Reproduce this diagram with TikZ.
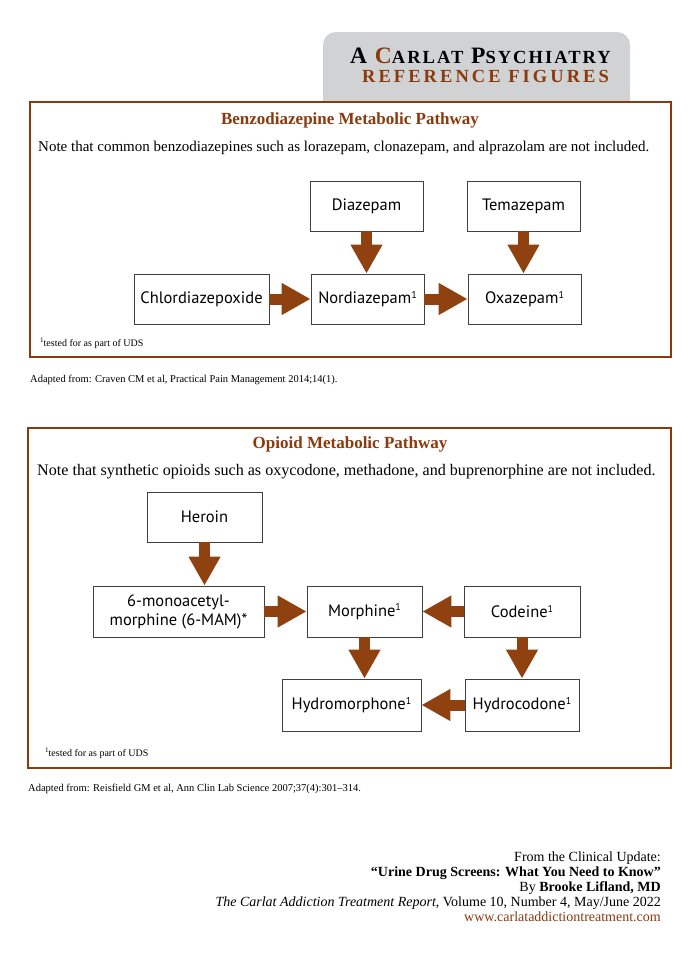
\documentclass[tikz,border=0pt]{standalone}
\usepackage{fontspec}
\setmainfont{Liberation Serif}
\newfontfamily\nodefont{PT Sans}
\usetikzlibrary{arrows.meta}
\definecolor{brn}{RGB}{139,58,14}
\definecolor{arr}{RGB}{143,66,16}
\definecolor{tabgray}{RGB}{209,210,212}
\newcommand{\sone}{{\fontsize{10}{10}\selectfont\raisebox{5.5pt}{1}}}
\begin{document}
\begin{tikzpicture}[x=1pt,y=-1pt,
  drug/.style={draw=black!75, line width=0.8pt, fill=white, inner sep=0pt,
    minimum height=50pt, align=center,
    font=\nodefont\fontsize{16.5}{19}\selectfont},
  flow/.style={draw=arr, line width=11pt, -{Triangle[length=29pt,width=30pt]}},
  frame/.style={draw=brn, line width=2.2pt},
  ptitle/.style={font=\fontsize{17}{20}\selectfont\bfseries, text=brn},
  note/.style={font=\fontsize{15}{18}\selectfont, anchor=base west, inner sep=0pt},
  foot/.style={font=\fontsize{10}{12}\selectfont, anchor=base west, inner sep=0pt},
  src/.style={font=\fontsize{10.5}{12}\selectfont, anchor=base west, inner sep=0pt},
  credit/.style={font=\fontsize{14}{16}\selectfont, anchor=base east, inner sep=0pt}]
\useasboundingbox (0,0) rectangle (700,961);
\fill[white] (0,0) rectangle (700,961);
% header tab
\fill[tabgray, rounded corners=13pt] (323,102) -- (323,32) -- (630,32) -- (630,102) -- cycle;
\fill[tabgray] (323,80) rectangle (630,102);
\node[anchor=base west, inner sep=0pt, font=\bfseries] (hdr1) at (350,63)
  {\fontsize{23.5}{26}\selectfont\addfontfeature{LetterSpace=8}A \textcolor{brn}{C}{\fontsize{18.5}{22}\selectfont\addfontfeature{LetterSpace=11}ARLAT} P{\fontsize{18.5}{22}\selectfont\addfontfeature{LetterSpace=11}SYCHIATRY}};
\node[anchor=base west, inner sep=0pt, text=brn, font=\bfseries] (hdr2) at (362,82)
  {\fontsize{18.5}{22}\selectfont\addfontfeature{LetterSpace=16.5}REFERENCE FIGURES};
% box 1
\draw[frame] (30,102) rectangle (671,357);
\node[ptitle] (t1) at (350,120) {Benzodiazepine Metabolic Pathway};
\node[note] (n1) at (38,151) {Note that common benzodiazepines such as lorazepam, clonazepam, and alprazolam are not included.};
\node[drug, minimum width=113pt] (diaz) at (366.5,206) {Diazepam};
\node[drug, minimum width=113pt] (tema) at (523.5,206) {Temazepam};
\node[drug, minimum width=135pt] (chlor) at (201.5,299) {Chlordiazepoxide};
\node[drug, minimum width=113pt] (nord) at (367.5,299) {Nordiazepam\sone};
\node[drug, minimum width=113pt] (oxa) at (524.5,299) {Oxazepam\sone};
\draw[flow] (chlor.east) -- (nord.west);
\draw[flow] (nord.east) -- (oxa.west);
\draw[flow] (diaz.south) -- (diaz.south |- nord.north);
\draw[flow] (tema.south) -- (tema.south |- oxa.north);
\node[foot] (f1) at (40,346) {{\fontsize{7}{7}\selectfont\raisebox{3.5pt}{1}}tested for as part of UDS};
\node[src] (s1) at (30,382) {Adapted from: Craven CM et al, Practical Pain Management 2014;14(1).};
% box 2
\draw[frame] (28,428) rectangle (671,768);
\node[ptitle] (t2) at (350,444) {Opioid Metabolic Pathway};
\node[note, font=\fontsize{16.1}{18}\selectfont] (n2) at (37,475) {Note that synthetic opioids such as oxycodone, methadone, and buprenorphine are not included.};
\node[drug, minimum width=115pt] (her) at (204.5,517) {Heroin};
\node[drug, minimum width=171pt, minimum height=51pt] (mam) at (178.5,611.5) {6-monoacetyl-\\morphine (6-MAM)*};
\node[drug, minimum width=115pt, minimum height=51pt] (mor) at (364.5,611.5) {Morphine\sone};
\node[drug, minimum width=116pt, minimum height=51pt] (cod) at (522,611.5) {Codeine\sone};
\node[drug, minimum width=139pt, minimum height=52pt] (hym) at (351.5,705) {Hydromorphone\sone};
\node[drug, minimum width=114pt, minimum height=52pt] (hyc) at (522,705) {Hydrocodone\sone};
\draw[flow] (her.south) -- (her.south |- mam.north);
\draw[flow] (mam.east) -- (mor.west);
\draw[flow] (cod.west) -- (mor.east);
\draw[flow] (mor.south) -- (mor.south |- hym.north);
\draw[flow] (cod.south) -- (hyc.north);
\draw[flow] (hyc.west) -- (hym.east);
\node[foot] (f2) at (45,756) {{\fontsize{7}{7}\selectfont\raisebox{3.5pt}{1}}tested for as part of UDS};
\node[src] (s2) at (28,791) {Adapted from: Reisfield GM et al, Ann Clin Lab Science 2007;37(4):301--314.};
% credits
\node[credit] (c1) at (661,861) {From the Clinical Update:};
\node[credit] (c2) at (661,876) {\bfseries ``Urine Drug Screens: What You Need to Know''};
\node[credit] (c3) at (661,891) {By \textbf{Brooke Lifland, MD}};
\node[credit] (c4) at (661,906) {\textit{The Carlat Addiction Treatment Report}, Volume 10, Number 4, May/June 2022};
\node[credit, text=brn] (c5) at (661,921) {www.carlataddictiontreatment.com};
\end{tikzpicture}
\end{document}
